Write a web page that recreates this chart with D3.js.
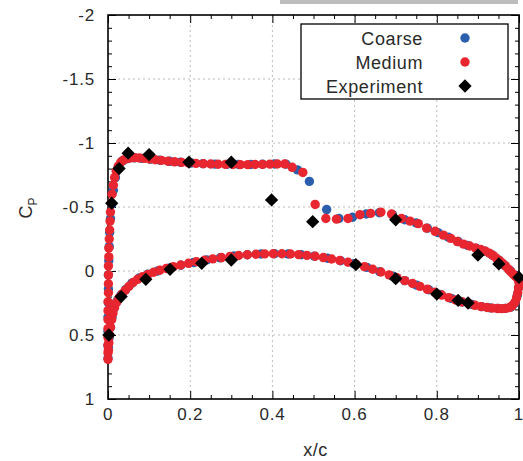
<!DOCTYPE html>
<html>
<head>
<meta charset="utf-8">
<script src="https://cdn.jsdelivr.net/npm/d3@7"></script>
<style>
  body { margin: 0; background: #fff; }
  text { font-family: "Liberation Sans", Arial, Helvetica, sans-serif; }
</style>
</head>
<body>
<div id="chart"></div>
<script>
// Cp along the surface, [x/c, Cp]
var mediumUpper = [
  [0.000,0.69],[0.000,0.64],[0.000,0.58],[0.000,0.52],[0.000,0.45],[0.000,0.38],[0.000,0.31],[0.000,0.24],
  [0.001,0.17],[0.001,0.10],[0.001,0.03],[0.001,-0.04],[0.002,-0.11],[0.002,-0.18],[0.003,-0.25],[0.004,-0.32],
  [0.005,-0.39],[0.006,-0.46],[0.008,-0.53],[0.010,-0.60],[0.013,-0.67],[0.016,-0.73],[0.020,-0.78],[0.025,-0.82],
  [0.031,-0.85],[0.038,-0.867],[0.046,-0.878],[0.055,-0.884],[0.065,-0.886],[0.076,-0.884],[0.088,-0.88],[0.101,-0.875],
  [0.115,-0.869],[0.130,-0.864],[0.146,-0.858],[0.162,-0.853],[0.179,-0.849],[0.196,-0.845],[0.214,-0.841],[0.232,-0.838],
  [0.250,-0.836],[0.268,-0.834],[0.286,-0.833],[0.304,-0.832],[0.322,-0.831],[0.340,-0.831],[0.358,-0.832],[0.376,-0.833],
  [0.394,-0.835],[0.412,-0.836],[0.430,-0.836],[0.448,-0.81],[0.474,-0.77],[0.504,-0.52],[0.530,-0.41],[0.556,-0.405],
  [0.584,-0.41],[0.613,-0.44],[0.639,-0.45],[0.664,-0.46],[0.690,-0.445],[0.714,-0.41],[0.735,-0.39],[0.755,-0.37],
  [0.775,-0.335],[0.796,-0.31],[0.816,-0.28],[0.834,-0.255],[0.850,-0.23],[0.865,-0.21],[0.880,-0.195],[0.894,-0.18],
  [0.907,-0.168],[0.918,-0.155],[0.928,-0.14],[0.937,-0.12],[0.945,-0.1],[0.953,-0.08],[0.960,-0.06],[0.967,-0.04],
  [0.974,-0.015],[0.980,0.005],[0.986,0.025],[0.991,0.04],[0.995,0.05],[0.998,0.06],[1.000,0.07]
];
var mediumLower = [
  [0.001,0.62],[0.002,0.56],[0.004,0.50],[0.006,0.44],[0.009,0.38],[0.012,0.33],[0.016,0.285],[0.021,0.245],
  [0.027,0.21],[0.034,0.18],[0.042,0.15],[0.051,0.12],[0.061,0.09],[0.072,0.065],[0.084,0.045],[0.097,0.027],
  [0.111,0.01],[0.126,-0.006],[0.142,-0.02],[0.159,-0.034],[0.177,-0.047],[0.196,-0.06],[0.215,-0.072],[0.235,-0.084],
  [0.255,-0.095],[0.276,-0.105],[0.297,-0.114],[0.318,-0.121],[0.339,-0.127],[0.360,-0.131],[0.381,-0.134],[0.402,-0.135],
  [0.423,-0.135],[0.444,-0.133],[0.464,-0.128],[0.484,-0.122],[0.504,-0.115],[0.524,-0.105],[0.544,-0.094],[0.564,-0.082],
  [0.584,-0.068],[0.604,-0.052],[0.624,-0.034],[0.644,-0.014],[0.664,0.008],[0.684,0.03],[0.703,0.052],[0.722,0.075],
  [0.741,0.098],[0.759,0.12],[0.777,0.143],[0.795,0.166],[0.812,0.188],[0.829,0.208],[0.846,0.226],[0.862,0.242],
  [0.878,0.256],[0.893,0.268],[0.908,0.278],[0.922,0.285],[0.935,0.29],[0.947,0.293],[0.958,0.294],[0.968,0.292],
  [0.977,0.285],[0.984,0.27],[0.990,0.245],[0.994,0.21],[0.997,0.17],[0.999,0.13],[1.000,0.09]
];
var coarseUpper = [
  [0.000,0.68],[0.000,0.58],[0.000,0.47],[0.000,0.36],[0.001,0.25],[0.001,0.14],[0.001,0.03],[0.002,-0.08],
  [0.003,-0.19],[0.004,-0.30],[0.006,-0.41],[0.009,-0.52],[0.013,-0.63],[0.018,-0.73],[0.025,-0.81],[0.035,-0.86],
  [0.048,-0.878],[0.064,-0.884],[0.082,-0.88],[0.103,-0.873],[0.126,-0.865],[0.150,-0.857],[0.176,-0.85],[0.203,-0.844],
  [0.231,-0.839],[0.260,-0.835],[0.289,-0.833],[0.318,-0.832],[0.347,-0.832],[0.376,-0.834],[0.405,-0.836],[0.433,-0.835],
  [0.461,-0.79],[0.490,-0.70],[0.532,-0.48],[0.562,-0.41],[0.595,-0.42],[0.628,-0.445],[0.660,-0.455],[0.692,-0.44],
  [0.722,-0.40],[0.750,-0.375],[0.777,-0.335],[0.803,-0.30],[0.828,-0.265],[0.852,-0.23],[0.875,-0.2],[0.897,-0.176],
  [0.917,-0.155],[0.935,-0.125],[0.951,-0.085],[0.965,-0.045],[0.978,-0.005],[0.989,0.03],[0.997,0.055],[1.000,0.07]
];
var coarseLower = [
  [0.001,0.60],[0.003,0.52],[0.006,0.44],[0.010,0.36],[0.015,0.29],[0.022,0.235],[0.031,0.19],[0.043,0.145],
  [0.058,0.095],[0.076,0.055],[0.097,0.025],[0.121,0.0],[0.148,-0.022],[0.177,-0.045],[0.208,-0.066],[0.240,-0.086],
  [0.273,-0.103],[0.306,-0.117],[0.339,-0.127],[0.372,-0.133],[0.405,-0.135],[0.438,-0.133],[0.470,-0.127],[0.502,-0.116],
  [0.534,-0.1],[0.566,-0.08],[0.598,-0.057],[0.630,-0.028],[0.661,0.005],[0.692,0.04],[0.722,0.075],[0.751,0.11],
  [0.780,0.146],[0.808,0.183],[0.835,0.214],[0.861,0.241],[0.886,0.262],[0.909,0.278],[0.930,0.288],[0.949,0.293],
  [0.966,0.292],[0.980,0.282],[0.990,0.25],[0.996,0.19],[0.999,0.13]
];
var experiment = [
  [0.002,0.50],[0.032,0.20],[0.092,0.065],[0.151,-0.013],[0.228,-0.06],[0.30,-0.086],[0.603,-0.05],[0.70,0.06],
  [0.80,0.18],[0.852,0.23],[0.876,0.25],[1.0,0.05],[0.951,-0.055],[0.90,-0.125],[0.70,-0.40],[0.498,-0.385],
  [0.398,-0.555],[0.30,-0.85],[0.197,-0.85],[0.10,-0.91],[0.049,-0.92],[0.027,-0.80],[0.009,-0.53]
];
var xTicks = [0, 0.2, 0.4, 0.6, 0.8, 1];
var yTicks = [-2, -1.5, -1, -0.5, 0, 0.5, 1];
var legendNames = ["Coarse", "Medium", "Experiment"];

var width = 523, height = 461;
var margin = { top: 15, right: 4, bottom: 62, left: 108 };
var innerW = width - margin.left - margin.right;
var innerH = height - margin.top - margin.bottom;

var blue = "#2b5fae", red = "#e8262f";
var textColor = "#2a2a2a";

var svg = d3.select("#chart").append("svg")
    .attr("width", width)
    .attr("height", height);

// grey strip at the very top
svg.append("rect").attr("x", 280).attr("y", 0).attr("width", 238).attr("height", 4).attr("fill", "#bdbdbd");

var g = svg.append("g").attr("transform", "translate(" + margin.left + "," + margin.top + ")");

var x = d3.scaleLinear().domain([0, 1]).range([0, innerW]);
var y = d3.scaleLinear().domain([-2, 1]).range([0, innerH]);

// grid
g.append("g").selectAll("line").data(xTicks.slice(1, -1)).enter().append("line")
    .attr("x1", x).attr("x2", x).attr("y1", 0).attr("y2", innerH)
    .attr("stroke", "#bbb").attr("stroke-dasharray", "2,3");
g.append("g").selectAll("line").data(yTicks.slice(1, -1)).enter().append("line")
    .attr("y1", y).attr("y2", y).attr("x1", 0).attr("x2", innerW)
    .attr("stroke", "#bbb").attr("stroke-dasharray", "2,3");

// inward ticks on all four sides
var xMinor = d3.range(0, 21).map(function(i){ return i * 0.05; });
var yMinor = d3.range(0, 31).map(function(i){ return -2 + i * 0.1; });
function isMajor(v, step) { return Math.abs(v / step - Math.round(v / step)) < 1e-6; }

var axBottom = d3.axisBottom(x).tickValues(xMinor).tickSize(-4).tickFormat("");
var axTop = d3.axisTop(x).tickValues(xMinor).tickSize(-4).tickFormat("");
var axLeft = d3.axisLeft(y).tickValues(yMinor).tickSize(-4).tickFormat("");
var axRight = d3.axisRight(y).tickValues(yMinor).tickSize(-4).tickFormat("");

function styleAxis(sel, step, horizontal) {
  sel.select(".domain").remove();
  sel.selectAll(".tick line").attr("stroke", "#000").attr("stroke-width", 1)
    .each(function(d) {
      if (isMajor(d, step)) {
        var l = d3.select(this);
        if (horizontal) l.attr("y2", +l.attr("y2") * 2); else l.attr("x2", +l.attr("x2") * 2);
      }
    });
}
g.append("g").attr("transform", "translate(0," + innerH + ")").call(axBottom).call(styleAxis, 0.2, true);
g.append("g").call(axTop).call(styleAxis, 0.2, true);
g.append("g").call(axLeft).call(styleAxis, 0.5, false);
g.append("g").attr("transform", "translate(" + innerW + ",0)").call(axRight).call(styleAxis, 0.5, false);

// tick labels
g.append("g").selectAll("text").data(xTicks).enter().append("text")
    .attr("x", x).attr("y", innerH + 21).attr("text-anchor", "middle")
    .attr("font-size", 17).attr("letter-spacing", 0.8)
    .attr("fill", textColor).text(function(d){ return String(d); });
g.append("g").selectAll("text").data(yTicks).enter().append("text")
    .attr("x", -13).attr("y", function(d){ return y(d) + 6; }).attr("text-anchor", "end")
    .attr("font-size", 17).attr("letter-spacing", 0.8)
    .attr("fill", textColor).text(function(d){ return String(d); });

// frame
g.append("rect").attr("width", innerW).attr("height", innerH)
    .attr("fill", "none").attr("stroke", "#000").attr("stroke-width", 1.6);

// axis titles
svg.append("text").attr("x", margin.left + innerW / 2 + 2).attr("y", 456)
    .attr("text-anchor", "middle").attr("font-size", 18).attr("letter-spacing", 0.5)
    .attr("fill", textColor).text("x/c");
var cp = svg.append("text").attr("transform", "translate(32,208) rotate(-90)")
    .attr("text-anchor", "middle").attr("font-size", 18).attr("fill", textColor);
cp.append("tspan").text("C");
cp.append("tspan").attr("font-size", 12).attr("dy", 5).text("P");

// data
var plot = g.append("g");
plot.selectAll(".coarse").data(coarseUpper.concat(coarseLower)).enter().append("circle")
    .attr("class", "coarse")
    .attr("cx", function(d){ return x(d[0]); }).attr("cy", function(d){ return y(d[1]); })
    .attr("r", 4.7).attr("fill", blue);
plot.selectAll(".medium").data(mediumUpper.concat(mediumLower)).enter().append("circle")
    .attr("class", "medium")
    .attr("cx", function(d){ return x(d[0]); }).attr("cy", function(d){ return y(d[1]); })
    .attr("r", 4.7).attr("fill", red);
var diamond = d3.symbol().type(d3.symbolSquare).size(88);
plot.selectAll(".exp").data(experiment).enter().append("path")
    .attr("class", "exp")
    .attr("d", diamond)
    .attr("transform", function(d){ return "translate(" + x(d[0]) + "," + y(d[1]) + ") rotate(45)"; })
    .attr("fill", "#000");

// legend
var lg = svg.append("g");
lg.append("rect").attr("x", 301).attr("y", 24).attr("width", 207).attr("height", 75)
    .attr("fill", "#fff").attr("stroke", "#000").attr("stroke-width", 1.3);
var ly = [38, 62, 86];
lg.selectAll("text").data(legendNames).enter().append("text")
    .attr("x", 423).attr("y", function(d, i){ return ly[i] + 6.5; })
    .attr("text-anchor", "end").attr("font-size", 18).attr("letter-spacing", 0.6)
    .attr("fill", textColor).text(function(d){ return d; });
lg.append("circle").attr("cx", 465).attr("cy", ly[0]).attr("r", 4.7).attr("fill", blue);
lg.append("circle").attr("cx", 465).attr("cy", ly[1]).attr("r", 4.7).attr("fill", red);
lg.append("path").attr("d", diamond).attr("transform", "translate(465," + ly[2] + ") rotate(45)").attr("fill", "#000");
</script>
</body>
</html>
